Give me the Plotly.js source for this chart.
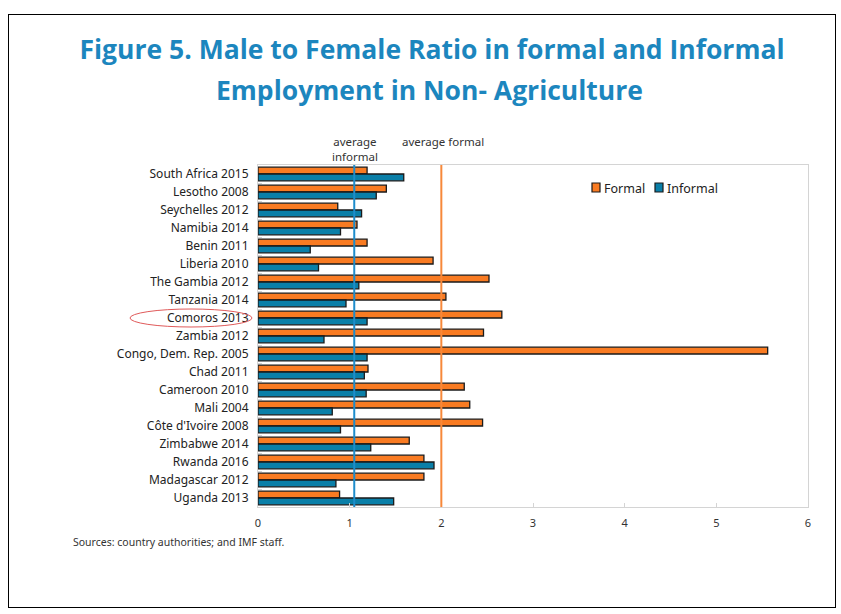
<!DOCTYPE html>
<html><head><meta charset="utf-8">
<script src="https://cdn.plot.ly/plotly-3.0.1.min.js"></script>
<style>
html,body{margin:0;padding:0;background:#fff;}
#wrap{position:relative;width:841px;height:614px;}
#chart{position:absolute;left:0;top:0;width:841px;height:614px;}
#frame{position:absolute;left:8px;top:14px;width:828px;height:594px;border:1.5px solid #000;pointer-events:none;box-sizing:border-box;}
</style></head>
<body>
<div id="wrap"><div id="chart"></div><div id="frame"></div></div>
<script>
const countries = ["South Africa 2015","Lesotho 2008","Seychelles 2012","Namibia 2014","Benin 2011","Liberia 2010","The Gambia 2012","Tanzania 2014","Comoros 2013","Zambia 2012","Congo, Dem. Rep. 2005","Chad 2011","Cameroon 2010","Mali 2004","Côte d'Ivoire 2008","Zimbabwe 2014","Rwanda 2016","Madagascar 2012","Uganda 2013"];
const formal   = [1.19,1.40,0.87,1.08,1.19,1.91,2.52,2.05,2.66,2.46,5.56,1.20,2.25,2.31,2.45,1.65,1.81,1.81,0.89];
const informal = [1.59,1.29,1.13,0.90,0.57,0.66,1.10,0.96,1.19,0.72,1.19,1.16,1.18,0.81,0.90,1.23,1.92,0.85,1.48];
const avgInformal = 1.05;
const avgFormal = 2.0;
const xTicks = [0,1,2,3,4,5,6];
const seriesNames = ["Formal","Informal"];
const seriesColors = ['#F97B22','#0A7FA8'];

const L=258, R=808, T=165, B=507;
const px = v => (v-L)/(R-L);
const py = v => (B-v)/(B-T);

const traces = [
  {type:'bar', orientation:'h', name:seriesNames[0], y:countries, x:formal,
   marker:{color:seriesColors[0], line:{color:'#1a1a1a', width:1.3}}},
  {type:'bar', orientation:'h', name:seriesNames[1], y:countries, x:informal,
   marker:{color:seriesColors[1], line:{color:'#1a1a1a', width:1.3}}}
];

const titleFont = {family:'Open Sans, sans-serif', size:26.5, color:'#1C86BE', weight:'bold'};

const layout = {
  width:841, height:614,
  margin:{l:L, r:841-R, t:T, b:614-B},
  paper_bgcolor:'#fff', plot_bgcolor:'#fff',
  font:{family:'Noto Sans, sans-serif', color:'#222'},
  barmode:'group', bargap:0.24, bargroupgap:0,
  showlegend:false,
  title:{text:'Figure 5. Male to Female Ratio in formal and Informal',
         x:432/841, xref:'container', xanchor:'center', y:1-50/614, yanchor:'middle', yref:'container',
         font:titleFont},
  xaxis:{range:[0,6], tickvals:xTicks, ticktext:xTicks.map(String),
         showgrid:false, zeroline:false, showline:true, mirror:true, linecolor:'#d4d4d4', linewidth:1,
         ticks:'inside', ticklen:4, tickcolor:'#d4d4d4',
         tickfont:{size:11, color:'#333'}, ticklabelstandoff:6, fixedrange:true},
  yaxis:{type:'category', autorange:'reversed', showgrid:false, zeroline:false,
         showline:true, mirror:true, linecolor:'#d4d4d4', linewidth:1,
         ticks:'inside', tickson:'boundaries', ticklen:4, tickcolor:'#d4d4d4',
         tickfont:{size:12, color:'#222'}, ticklabelstandoff:6, fixedrange:true},
  shapes:[
    {type:'line', xref:'x', yref:'paper', x0:avgInformal, x1:avgInformal, y0:0, y1:1,
     line:{color:'#1E8CCB', width:2}},
    {type:'line', xref:'x', yref:'paper', x0:avgFormal, x1:avgFormal, y0:0, y1:1,
     line:{color:'#F7883A', width:2}},
    {type:'circle', xref:'paper', yref:'paper', x0:px(130), x1:px(252), y0:py(327), y1:py(309),
     line:{color:'#E05A5A', width:1}},
    {type:'rect', xref:'paper', yref:'paper', x0:px(592), x1:px(600), y0:py(192), y1:py(183),
     fillcolor:seriesColors[0], line:{color:'#1a1a1a', width:1.2}},
    {type:'rect', xref:'paper', yref:'paper', x0:px(655), x1:px(663), y0:py(192), y1:py(183),
     fillcolor:seriesColors[1], line:{color:'#1a1a1a', width:1.2}}
  ],
  annotations:[
    {text:'Employment in Non- Agriculture', xref:'paper', yref:'paper', x:px(429), y:py(90),
     xanchor:'center', yanchor:'middle', showarrow:false, font:titleFont},
    {text:seriesNames[0], xref:'paper', yref:'paper', x:px(602), y:py(188), xanchor:'left', yanchor:'middle',
     showarrow:false, font:{size:12.5, color:'#222'}},
    {text:seriesNames[1], xref:'paper', yref:'paper', x:px(665), y:py(188), xanchor:'left', yanchor:'middle',
     showarrow:false, font:{size:12.5, color:'#222'}},
    {text:'average<br>informal', xref:'paper', yref:'paper', x:px(355), y:py(132), xanchor:'center', yanchor:'top',
     showarrow:false, font:{size:11.5, color:'#333'}},
    {text:'average formal', xref:'paper', yref:'paper', x:px(443), y:py(132), xanchor:'center', yanchor:'top',
     showarrow:false, font:{size:11.5, color:'#333'}},
    {text:'Sources: country authorities; and IMF staff.', xref:'paper', yref:'paper', x:px(71), y:py(533),
     xanchor:'left', yanchor:'top', showarrow:false, font:{size:10.5, color:'#333'}}
  ]
};

Plotly.newPlot('chart', traces, layout, {displayModeBar:false, staticPlot:true});
</script>
</body></html>
